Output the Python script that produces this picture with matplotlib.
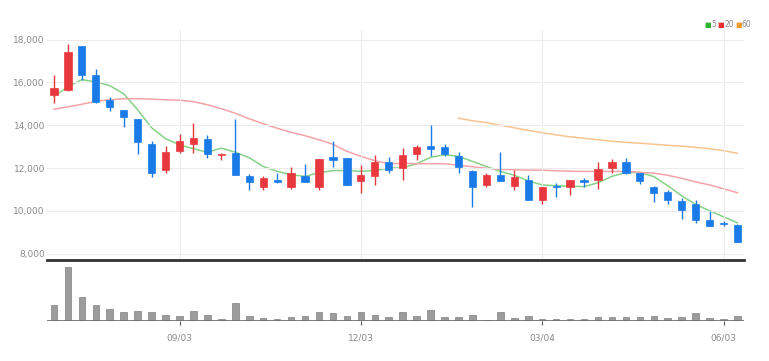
import numpy as np
import pandas as pd
import matplotlib
matplotlib.use('Agg')
import matplotlib.pyplot as plt
from matplotlib.patches import Rectangle

# weekly candles, 2018-07-02 .. 2019-06-10
dates = pd.date_range('2018-07-02', periods=50, freq='W-MON')

opens = [15400, 15630, 17690, 16330, 15190, 14720, 14300, 13130, 11930, 12810,
         13130, 13370, 12590, 12700, 11630, 11110, 11430, 11130, 11630, 11130,
         12510, 12460, 11400, 11640, 12260, 11990, 12650, 13040, 12960, 12580,
         11840, 11210, 11650, 11170, 11450, 10510, 11180, 11120, 11450, 11450,
         11990, 12270, 11790, 11100, 10870, 10470, 10330, 9580, 9430, 9340]
closes = [15750, 17420, 16360, 15090, 14830, 14380, 13210, 11790, 12740, 13240,
          13400, 12670, 12660, 11680, 11340, 11530, 11360, 11790, 11340, 12420,
          12380, 11210, 11650, 12280, 11920, 12620, 12960, 12880, 12670, 12070,
          11110, 11680, 11370, 11600, 10510, 11110, 11110, 11450, 11340, 11950,
          12270, 11790, 11370, 10820, 10520, 10040, 9580, 9310, 9360, 8560]
highs = [16330, 17800, 17700, 16630, 15320, 14720, 14300, 13240, 13050, 13590,
         14100, 13550, 12700, 14300, 11730, 11630, 11760, 12070, 12180, 12420,
         13240, 12460, 12150, 12620, 12510, 12930, 13090, 14020, 13120, 12770,
         11920, 11790, 12760, 11920, 11680, 11110, 11290, 11450, 11540, 12260,
         12410, 12460, 11790, 11180, 10950, 10590, 10500, 9990, 9510, 9380]
lows = [15040, 15600, 16130, 15050, 14650, 13940, 12660, 11600, 11760, 12700,
        12700, 12460, 12380, 11680, 10980, 10980, 11320, 11030, 11340, 10980,
        12070, 11210, 10850, 11210, 11790, 11450, 12380, 12570, 12570, 11790,
        10170, 11110, 11370, 10980, 10510, 10310, 10640, 10760, 11110, 11010,
        11760, 11710, 11260, 10400, 10320, 9600, 9430, 9310, 9290, 8540]

ma5 = [15350, 15800, 16130, 16030, 15850, 15470, 14720, 13880, 13370, 13090,
       12900, 12740, 12930, 12740, 12480, 12070, 11850, 11680, 11610, 11780,
       11880, 11880, 11850, 11880, 11990, 12010, 12200, 12500, 12620, 12550,
       12310, 12070, 11840, 11660, 11400, 11210, 11170, 11150, 11130, 11310,
       11610, 11790, 11790, 11600, 11170, 10700, 10300, 10000, 9720, 9440]
ma20 = [14750, 14860, 14980, 15120, 15190, 15240, 15240, 15220, 15190, 15170,
        15100, 14960, 14770, 14560, 14300, 14070, 13860, 13670, 13510, 13320,
        13110, 12780, 12550, 12340, 12200, 12220, 12200, 12200, 12200, 12130,
        12060, 11990, 11940, 11920, 11900, 11900, 11870, 11850, 11840, 11840,
        11840, 11840, 11800, 11760, 11660, 11520, 11350, 11210, 11030, 10840]
ma60 = [None] * 29 + [14330, 14210, 14120, 14000, 13880, 13760, 13650, 13550,
                      13460, 13390, 13320, 13250, 13200, 13160, 13110, 13060,
                      13020, 12970, 12900, 12810, 12690]

volume = [480, 1610, 730, 480, 360, 260, 310, 260, 180, 160,
          310, 180, 60, 550, 140, 90, 70, 130, 160, 280,
          230, 160, 280, 180, 115, 280, 160, 320, 110, 130,
          180, 30, 260, 80, 150, 60, 60, 70, 70, 110,
          130, 130, 110, 160, 80, 130, 230, 80, 60, 160]

tick_idx = [9, 22, 35, 48]
tick_labels = ['09/03', '12/03', '03/04', '06/03']

UP = '#e8383d'
DOWN = '#1a7be8'

fig = plt.figure(figsize=(7.69, 3.61), dpi=100)
ax = fig.add_axes([0.0611, 0.2798, 0.907, 0.637])
axv = fig.add_axes([0.0611, 0.1108, 0.907, 0.1634])

x = np.arange(len(dates))
w = 0.52
for i in x:
    o, c, h, l = opens[i], closes[i], highs[i], lows[i]
    col = UP if c >= o else DOWN
    ax.vlines(i, l, h, color=col, lw=1, zorder=2)
    ax.add_patch(Rectangle((i - w / 2, min(o, c)), w, max(abs(c - o), 40),
                           facecolor=col, edgecolor=col, lw=0.5, zorder=3))

ax.plot(x, ma5, color='#86d386', lw=1.1, zorder=1)
ax.plot(x, ma20, color='#f5a3a8', lw=1.1, zorder=1)
ma60_s = pd.Series(ma60, dtype=float)
ax.plot(x, ma60_s, color='#f7c48f', lw=1.1, zorder=1)

ax.set_xlim(-0.5, 49.5)
ax.set_ylim(7700, 18450)
ax.set_yticks([8000, 10000, 12000, 14000, 16000, 18000])
ax.set_yticklabels(['8,000', '10,000', '12,000', '14,000', '16,000', '18,000'])
ax.set_xticks(tick_idx)
ax.tick_params(axis='x', length=0, labelbottom=False)
ax.tick_params(axis='y', length=0, labelsize=6.5, labelcolor='#8a8a8a', pad=1.5)
ax.grid(True, color='#ececec', lw=0.8, zorder=0)
for s in ['top', 'right', 'left']:
    ax.spines[s].set_visible(False)
ax.spines['bottom'].set_color('#333333')
ax.spines['bottom'].set_linewidth(2)

# legend (top right)
for xx, col, lab in zip([0.916, 0.933, 0.956], ['#2db32d', '#e83030', '#f29a2e'], ['5', '20', '60']):
    fig.text(xx, 0.931, '\u25a0', color=col, fontsize=5, va='center', ha='left')
    fig.text(xx + 0.0085, 0.931, lab, color='#888888', fontsize=5.5, va='center', ha='left')

axv.bar(x, volume, width=0.47, color='#9c9c9c', edgecolor='#808080', lw=0.5, zorder=2)
axv.axhline(0, color='#707070', lw=2, zorder=3)
axv.set_xlim(-0.5, 49.5)
axv.set_ylim(0, 1770)
axv.set_yticks([])
axv.set_xticks(tick_idx)
axv.set_xticklabels(tick_labels)
axv.tick_params(axis='x', length=3, color='#555555', labelsize=6.5, labelcolor='#8a8a8a', pad=6)
for s in ['top', 'right', 'left', 'bottom']:
    axv.spines[s].set_visible(False)

fig.savefig('out.png', dpi=100, facecolor='white')
